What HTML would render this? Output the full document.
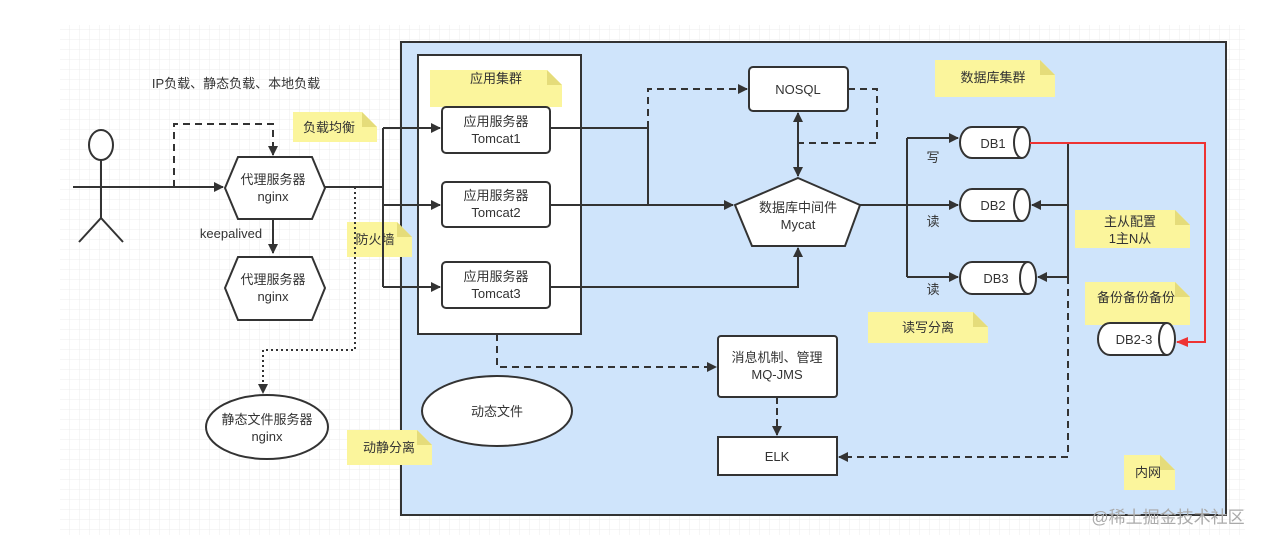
<!DOCTYPE html>
<html><head><meta charset="utf-8"><style>
body{margin:0;background:#fff}
svg text{font-family:"Liberation Sans","Noto Sans CJK SC",sans-serif;font-size:13px;fill:#333;text-anchor:middle}
</style></head><body>
<svg width="1264" height="545" viewBox="0 0 1264 545" xmlns="http://www.w3.org/2000/svg">
<defs>
<pattern id="g" width="10" height="10" patternUnits="userSpaceOnUse"><path d="M10 0V10H0" fill="none" stroke="#ececec" stroke-width="1"/></pattern>
<marker id="a" markerWidth="10" markerHeight="10" refX="9" refY="5" orient="auto" markerUnits="userSpaceOnUse"><path d="M0 0L10 5L0 10z" fill="#333"/></marker>
<marker id="as" markerWidth="10" markerHeight="10" refX="1" refY="5" orient="auto" markerUnits="userSpaceOnUse"><path d="M10 0L0 5L10 10z" fill="#333"/></marker>
<marker id="r" markerWidth="12" markerHeight="10" refX="11" refY="5" orient="auto" markerUnits="userSpaceOnUse"><path d="M0 0L12 5L0 10z" fill="#e33"/></marker>
</defs>
<rect x="60" y="25" width="1185" height="510" fill="url(#g)"/>
<rect x="401" y="42" width="825" height="473" fill="#cfe4fb" stroke="#333" stroke-width="2"/>
<rect x="418" y="55" width="163" height="279" fill="#fff" stroke="#333" stroke-width="2"/>
<g fill="#fbf59c">
<path d="M430 70H547L562 85V107H430Z"/><path d="M293 112H362L377 127V142H293Z"/><path d="M347 222H397L412 237V257H347Z"/>
<path d="M347 430H417L432 445V465H347Z"/><path d="M935 60H1040L1055 75V97H935Z"/><path d="M1075 210H1175L1190 225V248H1075Z"/>
<path d="M1085 282H1175L1190 297V325H1085Z"/><path d="M868 312H973L988 327V343H868Z"/><path d="M1124 455H1160L1175 470V490H1124Z"/>
</g>
<g fill="#e5dc7a"><path d="M547 70L562 85H547Z"/><path d="M362 112L377 127H362Z"/><path d="M397 222L412 237H397Z"/><path d="M417 430L432 445H417Z"/><path d="M1040 60L1055 75H1040Z"/><path d="M1175 210L1190 225H1175Z"/><path d="M1175 282L1190 297H1175Z"/><path d="M973 312L988 327H973Z"/><path d="M1160 455L1175 470H1160Z"/></g>
<g stroke="#333" stroke-width="2" fill="#fff">
<rect x="442" y="107" width="108" height="46" rx="4"/><rect x="442" y="182" width="108" height="45" rx="4"/><rect x="442" y="262" width="108" height="46" rx="4"/>
<rect x="749" y="67" width="99" height="44" rx="4"/>
<path d="M798 178L860 205L845 246H752L735 205Z"/>
<rect x="718" y="336" width="119" height="61" rx="3"/><rect x="718" y="437" width="119" height="38"/>
<path d="M238 157H312L325 188L312 219H238L225 188Z"/><path d="M238 257H312L325 288L312 320H238L225 288Z"/>
<ellipse cx="497" cy="411" rx="75" ry="35"/><ellipse cx="267" cy="427" rx="61" ry="32"/>
<path d="M972 127H1022A8 15.5 0 0 1 1022 158H972A12 15.5 0 0 1 972 127Z"/><path d="M1022 127A8 15.5 0 0 0 1022 158"/>
<path d="M972 189H1022A8 16 0 0 1 1022 221H972A12 16 0 0 1 972 189Z"/><path d="M1022 189A8 16 0 0 0 1022 221"/>
<path d="M972 262H1028A8 16 0 0 1 1028 294H972A12 16 0 0 1 972 262Z"/><path d="M1028 262A8 16 0 0 0 1028 294"/>
<path d="M1110 323H1167A8 16 0 0 1 1167 355H1110A12 16 0 0 1 1110 323Z"/><path d="M1167 323A8 16 0 0 0 1167 355"/>
<ellipse cx="101" cy="145" rx="12" ry="15"/>
</g>
<g stroke="#333" stroke-width="2" fill="none">
<path d="M101 160V218M79 242L101 218L123 242M73 187H145"/>
<path d="M145 187H223" marker-end="url(#a)"/>
<path d="M174 187V124H273V155" stroke-dasharray="7 5" marker-end="url(#a)"/>
<path d="M273 219V253" marker-end="url(#a)"/>
<path d="M325 187H383M383 128V287"/>
<path d="M383 128H440" marker-end="url(#a)"/><path d="M383 205H440" marker-end="url(#a)"/><path d="M383 287H440" marker-end="url(#a)"/>
<path d="M355 187V350H263V393" stroke-dasharray="2 3" marker-end="url(#a)"/>
<path d="M550 128H648V205"/>
<path d="M648 128V89H747" stroke-dasharray="7 5" marker-end="url(#a)"/>
<path d="M550 205H733" marker-end="url(#a)"/>
<path d="M550 287H798V248" marker-end="url(#a)"/>
<path d="M848 89H877V143H798" stroke-dasharray="7 5"/>
<path d="M798 113V176" marker-start="url(#as)" marker-end="url(#a)"/>
<path d="M860 205H907M907 138V277"/>
<path d="M907 138H958" marker-end="url(#a)"/><path d="M907 205H958" marker-end="url(#a)"/><path d="M907 277H958" marker-end="url(#a)"/>
<path d="M1068 143V277"/>
<path d="M1068 205H1032" marker-end="url(#a)"/><path d="M1068 277H1038" marker-end="url(#a)"/>
<path d="M1068 277V457H839" stroke-dasharray="7 5" marker-end="url(#a)"/>
<path d="M497 334V367H716" stroke-dasharray="7 5" marker-end="url(#a)"/>
<path d="M777 397V435" stroke-dasharray="7 4" marker-end="url(#a)"/>
</g>
<path d="M1030 143H1205V342H1177" stroke="#e33" stroke-width="2" fill="none" marker-end="url(#r)"/>
<text x="236" y="88">IP负载、静态负载、本地负载</text>
<text x="231" y="238">keepalived</text>
<text x="273" y="184">代理服务器</text><text x="273" y="201">nginx</text>
<text x="273" y="284">代理服务器</text><text x="273" y="301">nginx</text>
<text x="267" y="424">静态文件服务器</text><text x="267" y="441">nginx</text>
<text x="497" y="416">动态文件</text>
<text x="496" y="83">应用集群</text><text x="329" y="132">负载均衡</text><text x="375" y="244">防火墙</text><text x="389" y="452">动静分离</text>
<text x="496" y="126">应用服务器</text><text x="496" y="143">Tomcat1</text>
<text x="496" y="200">应用服务器</text><text x="496" y="217">Tomcat2</text>
<text x="496" y="281">应用服务器</text><text x="496" y="298">Tomcat3</text>
<text x="798" y="94">NOSQL</text>
<text x="798" y="212">数据库中间件</text><text x="798" y="229">Mycat</text>
<text x="777" y="362">消息机制、管理</text><text x="777" y="379">MQ-JMS</text>
<text x="777" y="461">ELK</text>
<text x="993" y="82">数据库集群</text><text x="1130" y="226">主从配置</text><text x="1130" y="243">1主N从</text>
<text x="1136" y="302">备份备份备份</text><text x="928" y="332">读写分离</text><text x="1148" y="477">内网</text>
<text x="993" y="148">DB1</text><text x="993" y="210">DB2</text><text x="996" y="283">DB3</text><text x="1134" y="344">DB2-3</text>
<text x="933" y="162">写</text><text x="933" y="226">读</text><text x="933" y="294">读</text>
<text x="1168" y="523" style="font-size:17px;fill:#aaa">@稀土掘金技术社区</text>
</svg>
</body></html>
